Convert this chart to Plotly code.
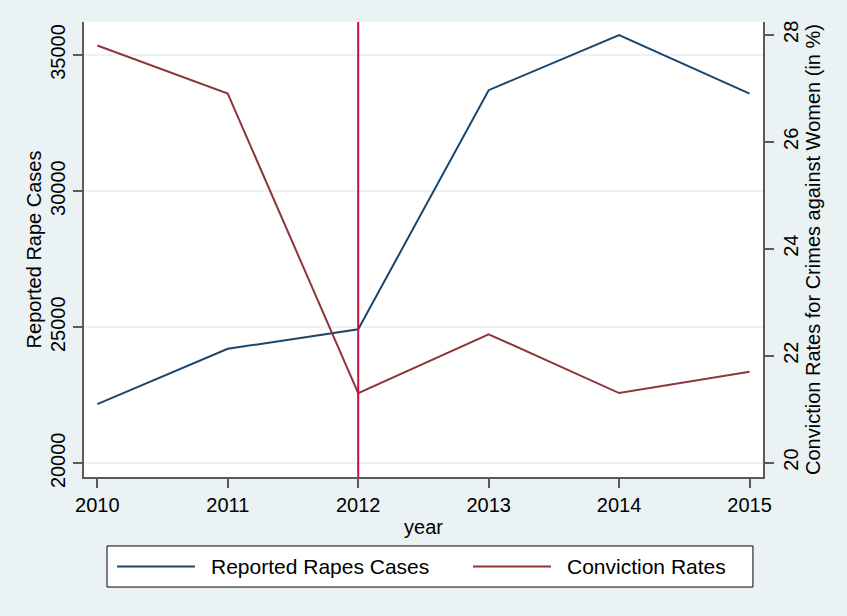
import plotly.graph_objects as go

years = [2010, 2011, 2012, 2013, 2014, 2015]
reported_rapes = [22172, 24206, 24923, 33707, 35735, 33580]
conviction_rates = [27.8, 26.9, 21.3, 22.4, 21.3, 21.7]
marker_year = 2012
series_names = ["Reported Rapes Cases", "Conviction Rates"]

left_ticks = [20000, 25000, 30000, 35000]
left_labels = ["20000", "25000", "30000", "35000"]
right_ticks = [20, 22, 24, 26, 28]
right_labels = ["20", "22", "24", "26", "28"]

BG = "#EAF2F3"
FONT = "Liberation Sans, Arial, sans-serif"
AXC = "#5a5a5a"
COLORS = ["#1a476f", "#90353b"]

fig = go.Figure()
fig.add_trace(go.Scatter(x=years, y=reported_rapes, mode="lines",
                         name=series_names[0], showlegend=False,
                         line=dict(color=COLORS[0], width=2)))
fig.add_trace(go.Scatter(x=years, y=conviction_rates, mode="lines",
                         name=series_names[1], yaxis="y2", showlegend=False,
                         line=dict(color=COLORS[1], width=2)))

fig.add_vline(x=marker_year, line=dict(color="#C8103A", width=2))

# Stata-style legend box (drawn in paper coordinates below the plot)
fig.add_shape(type="rect", xref="paper", yref="paper",
              x0=0.0339, x1=0.9852, y0=-0.2418, y1=-0.1516,
              line=dict(color="black", width=1), fillcolor="white", layer="above")
leg_y = -0.1967
for i, (name, col) in enumerate(zip(series_names, COLORS)):
    lx0 = [0.0486, 0.5729][i]
    fig.add_shape(type="line", xref="paper", yref="paper",
                  x0=lx0, x1=lx0 + 0.1149, y0=leg_y, y1=leg_y,
                  line=dict(color=col, width=2), layer="above")
    fig.add_annotation(xref="paper", yref="paper", x=lx0 + 0.1355, y=leg_y,
                       text=name, showarrow=False, xanchor="left", yanchor="middle",
                       font=dict(size=21, family=FONT, color="black"))

fig.update_layout(
    width=847, height=616,
    margin=dict(l=84, r=84, t=22, b=139),
    paper_bgcolor=BG, plot_bgcolor="white",
    font=dict(family=FONT, size=20, color="black"),
    showlegend=False,
    xaxis=dict(range=[2009.898, 2015.103], tickvals=years,
               ticks="outside", ticklen=9, tickwidth=1.5, tickcolor=AXC,
               showline=True, linecolor=AXC, linewidth=2, showgrid=False,
               zeroline=False, tickfont=dict(size=20),
               title=dict(text="year", standoff=5, font=dict(size=20))),
    yaxis=dict(range=[19497, 36212], tickvals=left_ticks, ticktext=left_labels,
               ticks="outside", ticklen=9, tickwidth=1.5, tickcolor=AXC,
               showline=True, linecolor=AXC, linewidth=2,
               showgrid=True, gridcolor=BG, gridwidth=2, zeroline=False,
               tickangle=-90, tickfont=dict(size=20),
               title=dict(text="Reported Rape Cases", standoff=0, font=dict(size=20))),
    yaxis2=dict(range=[19.73, 28.24], tickvals=right_ticks, ticktext=right_labels,
                overlaying="y", side="right",
                ticks="outside", ticklen=9, tickwidth=1.5, tickcolor=AXC,
                showline=True, linecolor=AXC, linewidth=2,
                showgrid=False, zeroline=False,
                tickangle=-90, tickfont=dict(size=20),
                title=dict(text="Conviction Rates for Crimes against Women (in %)",
                           standoff=3, font=dict(size=20))),
)

fig.write_html("out.html")
